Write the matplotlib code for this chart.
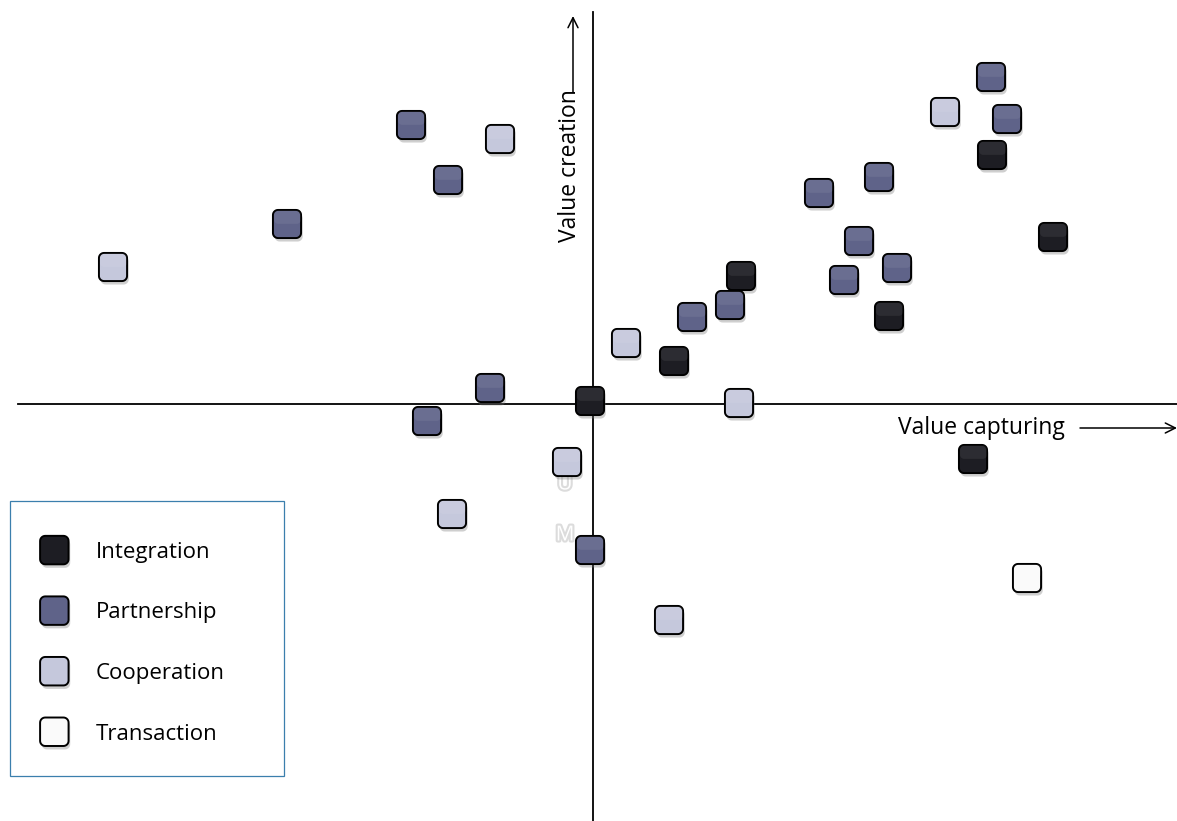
import numpy as np
import matplotlib.pyplot as plt
from matplotlib.path import Path
from matplotlib.lines import Line2D
from matplotlib.patches import Rectangle
import matplotlib.patheffects as pe

plt.rcParams['font.family'] = ['Open Sans', 'DejaVu Sans']

# positions of each relationship type (value capturing, value creation)
integration_x = [-0.02, 1.49, 0.82, 2.97, 4.00, 4.61, 3.81]
integration_y = [0.03, 1.28, 0.43, 0.88, 2.49, 1.67, -0.55]

partnership_x = [-1.81, -1.44, -3.05, -1.02, -1.65, -0.02, 1.00, 1.38, 2.27,
                 2.87, 2.67, 2.52, 3.05, 3.99, 4.15]
partnership_y = [2.79, 2.24, 1.80, 0.16, -0.17, -1.46, 0.87, 0.99, 2.11,
                 2.27, 1.63, 1.24, 1.36, 3.27, 2.85]

cooperation_x = [-4.79, -0.92, 0.34, 1.47, -0.25, -1.40, 0.77, 3.53]
cooperation_y = [1.37, 2.65, 0.61, 0.01, -0.58, -1.10, -2.16, 2.92]

transaction_x = [4.35]
transaction_y = [-1.74]

labels = ['Integration', 'Partnership', 'Cooperation', 'Transaction']
colors = ['#1d1d23', '#5f6389', '#c5c8dc', '#fafafa']


def rounded_square(r=0.18, n=8, top=0.5, bottom=-0.5, half=0.5):
    # closed path of a square with rounded corners
    verts = []
    corners = [(half - r, top - r, 0), (-half + r, top - r, 90),
               (-half + r, bottom + r, 180), (half - r, bottom + r, 270)]
    for cx, cy, a0 in corners:
        for t in np.linspace(a0, a0 + 90, n):
            verts.append((cx + r * np.cos(np.radians(t)), cy + r * np.sin(np.radians(t))))
    verts.append(verts[0])
    codes = [Path.MOVETO] + [Path.LINETO] * (len(verts) - 2) + [Path.CLOSEPOLY]
    return Path(verts, codes)


box = rounded_square()
# soft highlight along the top of each marker
gloss = rounded_square(r=0.12, top=0.42, bottom=0.02, half=0.40)

fig = plt.figure(figsize=(11.77, 8.21), dpi=100)
ax = fig.add_axes([0, 0, 1, 1])
ax.set_xlim(-5.92, 5.85)
ax.set_ylim(-4.17, 4.04)
ax.axis('off')

# quadrant axes
ax.plot([-5.74, 5.85], [0.0, 0.0], color='black', lw=1.3, zorder=1)
ax.plot([0.01, 0.01], [3.92, -4.17], color='black', lw=1.3, zorder=1)

ax.annotate('', xy=(5.85, -0.24), xytext=(4.88, -0.24), annotation_clip=False,
            arrowprops=dict(arrowstyle='->', lw=1.1, color='black',
                            mutation_scale=18, shrinkA=0, shrinkB=0))
ax.text(3.06, -0.24, 'Value capturing', fontsize=16.5, ha='left', va='center')
ax.annotate('', xy=(-0.19, 3.88), xytext=(-0.19, 3.12), annotation_clip=False,
            arrowprops=dict(arrowstyle='->', lw=1.1, color='black',
                            mutation_scale=18, shrinkA=0, shrinkB=0))
ax.text(-0.22, 2.38, 'Value creation', fontsize=16.5, rotation=90,
        ha='center', va='center')

shadow = [pe.SimplePatchShadow(offset=(1.2, -2.5), shadow_rgbFace='#777777',
                               alpha=0.35), pe.Normal()]

series = [(integration_x, integration_y), (partnership_x, partnership_y),
          (cooperation_x, cooperation_y), (transaction_x, transaction_y)]
for (xs, ys), c in zip(series, colors):
    sc = ax.scatter(xs, ys, s=410, marker=box, facecolor=c,
                    edgecolor='black', linewidth=1.4, zorder=3)
    sc.set_path_effects(shadow)
    ax.scatter(xs, ys, s=410, marker=gloss, facecolor='white', alpha=0.07,
               linewidth=0, zorder=4)

# faint letters beside the central column
for lx, ly, t in [(-0.27, -0.80, 'U'), (-0.27, -1.31, 'M')]:
    ax.text(lx, ly, t, fontsize=15, color='white', ha='center', va='center',
            zorder=2, path_effects=[pe.withStroke(linewidth=3, foreground='#dcdcdc')])

handles = [Line2D([], [], linestyle='none', marker=box, markersize=20.5,
                  markerfacecolor=c, markeredgecolor='black', markeredgewidth=1.4,
                  path_effects=shadow)
           for c in colors]
leg = ax.legend(handles, labels, loc='upper left', bbox_to_anchor=(0.032, 0.340),
                fontsize=16, frameon=False, labelspacing=1.78,
                handletextpad=1.1, borderpad=0, handlelength=1.5,
                borderaxespad=0)

fig.add_artist(Rectangle((10 / 1177, 1 - 776 / 821), 274 / 1177, 275 / 821,
                         transform=fig.transFigure, fill=False,
                         edgecolor='#3b7fad', linewidth=0.9))

fig.savefig('out.png', dpi=100)
